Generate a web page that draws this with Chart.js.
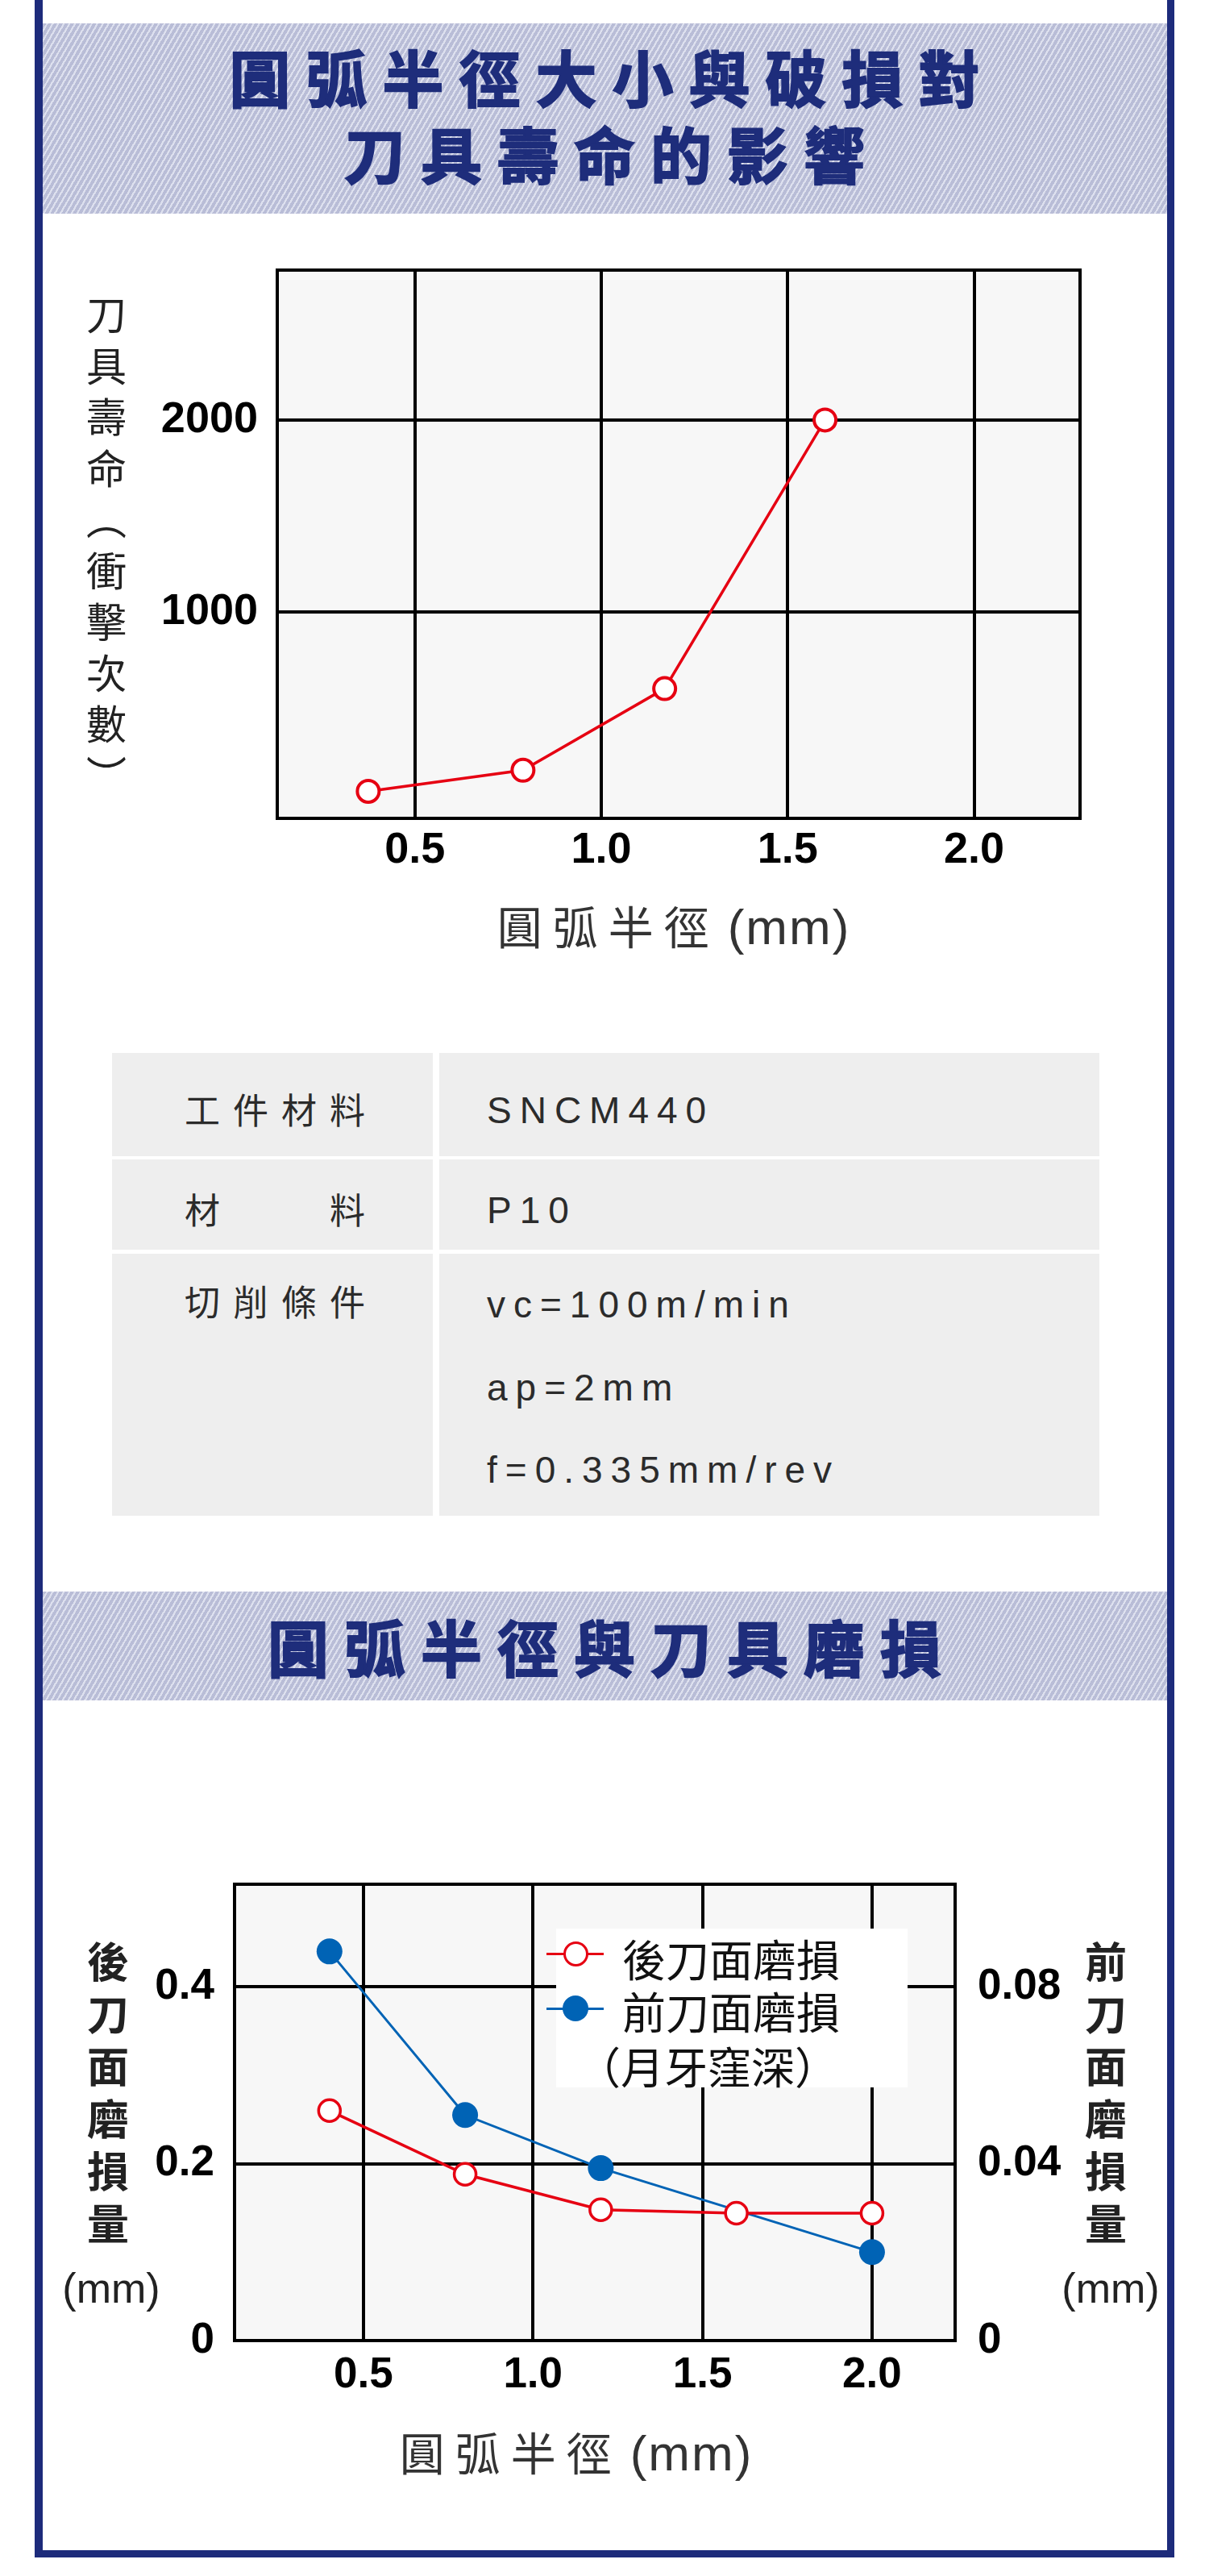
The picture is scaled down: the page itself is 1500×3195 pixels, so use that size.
<!DOCTYPE html>
<html lang="zh-Hant">
<head>
<meta charset="utf-8">
<title>圓弧半徑大小與破損對刀具壽命的影響</title>
<script src="https://cdn.jsdelivr.net/npm/chart.js@4.4.1/dist/chart.umd.min.js"></script>
<style>
  html, body { margin: 0; padding: 0; background: #fff; }
  #page { position: relative; width: 1500px; height: 3195px; overflow: hidden;
          font-family: "Noto Sans CJK TC", "Noto Sans", sans-serif; color: #222; }
  .abs { position: absolute; }
  .frame { background: #1d2b7b; }
  .band { background: repeating-linear-gradient(120deg, #b9bdd7 0px, #b9bdd7 3.8px, #dde0ee 3.8px, #dde0ee 6px); }
  .title { left: 0; width: 1500px; box-sizing: border-box; text-align: center; color: #1e2d7b;
           font-weight: 700; font-size: 76px; line-height: 95px; letter-spacing: 19px; padding-left: 19px;
           -webkit-text-stroke: 2px #1e2d7b; white-space: nowrap; }
  .cell { background: #eeeeee; }
  .lbl { font-size: 44px; line-height: 60px; letter-spacing: 16px; color: #2b2b2b; white-space: nowrap; }
  .val { font-family: "Liberation Sans", Arial, sans-serif; font-size: 46px; line-height: 103px;
         letter-spacing: 10px; color: #2b2b2b; white-space: nowrap; }
  .vcol { text-align: center; white-space: pre; }
  .xtitle { text-align: center; color: #333; white-space: nowrap; line-height: 80px; }
  .xtitle .cj { font-size: 56px; letter-spacing: 13px; }
  .xtitle .mm { font-family: "Liberation Sans", Arial, sans-serif; font-size: 62px; letter-spacing: 2px; margin-left: 10px; }
  .mmlab { font-family: "Liberation Sans", Arial, sans-serif; font-size: 52px; line-height: 60px; color: #222; text-align: center; }
  .leg { font-size: 54px; line-height: 70px; color: #111; white-space: nowrap; }
  canvas { position: absolute; }
</style>
</head>
<body>
<div id="page">
  <!-- outer frame -->
  <div class="abs frame" style="left:43px;top:0;width:10px;height:3172px"></div>
  <div class="abs frame" style="left:1448px;top:0;width:9px;height:3172px"></div>
  <div class="abs frame" style="left:43px;top:3163px;width:1414px;height:9px"></div>

  <!-- heading 1 -->
  <div class="abs band" style="left:53px;top:29px;width:1395px;height:236px"></div>
  <div class="abs title" style="top:47px">圓弧半徑大小與破損對</div>
  <div class="abs title" style="top:142px">刀具壽命的影響</div>

  <!-- chart 1 -->
  <canvas id="lifeChart" width="1200" height="800" style="left:180px;top:300px;width:1200px;height:800px"></canvas>
  <div class="abs vcol" style="left:92px;top:356px;width:80px;font-size:50px;line-height:63.5px;color:#222">刀
具
壽
命
︵
衝
擊
次
數
︶</div>
  <div class="abs xtitle" style="left:336px;top:1107px;width:1000px"><span class="cj">圓弧半徑</span><span class="mm">(mm)</span></div>

  <!-- spec table -->
  <div class="abs cell" style="left:139px;top:1306px;width:398px;height:128px"></div>
  <div class="abs cell" style="left:545px;top:1306px;width:819px;height:128px"></div>
  <div class="abs cell" style="left:139px;top:1438px;width:398px;height:112px"></div>
  <div class="abs cell" style="left:545px;top:1438px;width:819px;height:112px"></div>
  <div class="abs cell" style="left:139px;top:1555px;width:398px;height:325px"></div>
  <div class="abs cell" style="left:545px;top:1555px;width:819px;height:325px"></div>

  <div class="abs lbl" style="left:229px;top:1345px">工件材料</div>
  <div class="abs lbl" style="left:229px;top:1469px">材　　料</div>
  <div class="abs lbl" style="left:229px;top:1583px">切削條件</div>

  <div class="abs val" style="left:604px;top:1326px">SNCM440</div>
  <div class="abs val" style="left:604px;top:1450px">P10</div>
  <div class="abs val" style="left:604px;top:1567px">vc=100m/min</div>
  <div class="abs val" style="left:604px;top:1670px">ap=2mm</div>
  <div class="abs val" style="left:604px;top:1772px">f=0.335mm/rev</div>

  <!-- heading 2 -->
  <div class="abs band" style="left:53px;top:1974px;width:1395px;height:135px"></div>
  <div class="abs title" style="top:1994px">圓弧半徑與刀具磨損</div>

  <!-- chart 2 -->
  <canvas id="wearChart" width="1240" height="720" style="left:160px;top:2290px;width:1240px;height:720px"></canvas>
  <div class="abs vcol" style="left:94px;top:2398px;width:80px;font-size:52px;line-height:65px;font-weight:700;color:#222">後
刀
面
磨
損
量</div>
  <div class="abs mmlab" style="left:63px;top:2808px;width:150px">(mm)</div>
  <div class="abs vcol" style="left:1332px;top:2398px;width:80px;font-size:52px;line-height:65px;font-weight:700;color:#222">前
刀
面
磨
損
量</div>
  <div class="abs mmlab" style="left:1303px;top:2808px;width:150px">(mm)</div>
  <div class="abs xtitle" style="left:215px;top:3000px;width:1000px"><span class="cj">圓弧半徑</span><span class="mm">(mm)</span></div>

  <!-- legend of chart 2 -->
  <div class="abs" style="left:690px;top:2392px;width:436px;height:197px;background:#fff"></div>
  <div class="abs" style="left:678px;top:2421.5px;width:71px;height:3px;background:#e60012"></div>
  <div class="abs" style="left:698.5px;top:2407.5px;width:31px;height:31px;box-sizing:border-box;border:3.5px solid #e60012;border-radius:50%;background:#fff"></div>
  <div class="abs leg" style="left:772px;top:2394px">後刀面磨損</div>
  <div class="abs" style="left:678px;top:2489.5px;width:71px;height:3px;background:#0063b5"></div>
  <div class="abs" style="left:698px;top:2475px;width:32px;height:32px;border-radius:50%;background:#0063b5"></div>
  <div class="abs leg" style="left:772px;top:2459px">前刀面磨損</div>
  <div class="abs leg" style="left:716px;top:2527px">（月牙窪深）</div>
</div>

<script>
// 圖1: 圓弧半徑 (mm) 與刀具壽命 (衝擊次數)
const lifeRadius = [0.375, 0.79, 1.17, 1.6];
const lifeImpacts = [65, 175, 600, 2000];
const lifeXTicks = [0.5, 1.0, 1.5, 2.0];
const lifeYTicks = [1000, 2000];

// 圖2: 圓弧半徑 (mm) 與刀具磨損 (mm)
const flankRadius = [0.4, 0.8, 1.2, 1.6, 2.0];
const flankWear = [0.26, 0.188, 0.148, 0.144, 0.144];
const craterRadius = [0.4, 0.8, 1.2, 2.0];
const craterWear = [0.088, 0.051, 0.039, 0.020];
const wearXTicks = [0.5, 1.0, 1.5, 2.0];
const flankTicks = [0, 0.2, 0.4];
const craterTicks = [0, 0.04, 0.08];

const RED = '#e60012';
const BLUE = '#0063b5';
const tickFont = { family: '"Liberation Sans", Arial, sans-serif', size: 54, weight: 'bold' };

// plot background + black frame round the chart area
const framePlugin = {
    id: 'frame',
    beforeDraw(chart, args, opts) {
        const { ctx, chartArea: a } = chart;
        ctx.save();
        ctx.fillStyle = opts.fill;
        ctx.fillRect(a.left, a.top, a.width, a.height);
        ctx.restore();
    },
    beforeDatasetsDraw(chart, args, opts) {
        const { ctx, chartArea: a } = chart;
        ctx.save();
        ctx.strokeStyle = opts.color;
        ctx.lineWidth = opts.width;
        ctx.strokeRect(a.left, a.top, a.width, a.height);
        ctx.restore();
    }
};

function points(xs, ys) {
    return xs.map(function (x, i) { return { x: x, y: ys[i] }; });
}

function fixedTicks(list) {
    return function (scale) {
        scale.ticks = list.map(function (v) { return { value: v }; });
    };
}

// fix the axis box size and drop the label overhang padding
function fitBox(size) {
    return function (s) {
        if (s.isHorizontal()) s.height = size; else s.width = size;
        s.paddingTop = 0; s.paddingBottom = 0; s.paddingLeft = 0; s.paddingRight = 0;
    };
}

// chart 1
new Chart(document.getElementById('lifeChart').getContext('2d'), {
    type: 'line',
    data: {
        datasets: [{
            label: '刀具壽命',
            data: points(lifeRadius, lifeImpacts),
            borderColor: RED,
            borderWidth: 3.5,
            pointRadius: 13.5,
            pointBorderWidth: 4,
            pointBackgroundColor: '#fff',
            pointBorderColor: RED,
            tension: 0
        }]
    },
    options: {
        responsive: false,
        animation: false,
        layout: { padding: { top: 35, right: 40, left: 0, bottom: 0 } },
        plugins: {
            legend: { display: false },
            tooltip: { enabled: false },
            frame: { fill: '#f7f7f7', color: '#000', width: 4 }
        },
        scales: {
            x: {
                type: 'linear',
                min: 0.131,
                max: 2.284,
                afterBuildTicks: fixedTicks(lifeXTicks),
                afterFit: fitBox(85),
                ticks: { callback: function (v) { return v.toFixed(1); }, font: tickFont, color: '#000', padding: 8, maxRotation: 0 },
                grid: { color: '#000', lineWidth: 4, drawTicks: false },
                border: { display: false }
            },
            y: {
                min: -76,
                max: 2781,
                afterBuildTicks: fixedTicks(lifeYTicks),
                afterFit: fitBox(164),
                ticks: { callback: function (v) { return String(v); }, font: tickFont, color: '#000', padding: 24 },
                grid: { color: '#000', lineWidth: 4, drawTicks: false },
                border: { display: false }
            }
        }
    },
    plugins: [framePlugin]
});

// chart 2
const wearFont = { family: '"Liberation Sans", Arial, sans-serif', size: 53, weight: 'bold' };
new Chart(document.getElementById('wearChart').getContext('2d'), {
    type: 'line',
    data: {
        datasets: [{
            label: '後刀面磨損',
            data: points(flankRadius, flankWear),
            yAxisID: 'y',
            borderColor: RED,
            borderWidth: 3.5,
            pointRadius: 13.5,
            pointBorderWidth: 3.5,
            pointBackgroundColor: '#fff',
            pointBorderColor: RED,
            tension: 0
        }, {
            label: '前刀面磨損（月牙窪深）',
            data: points(craterRadius, craterWear),
            yAxisID: 'y2',
            borderColor: BLUE,
            borderWidth: 3,
            pointRadius: 16,
            pointBorderWidth: 0,
            pointBackgroundColor: BLUE,
            pointBorderColor: BLUE,
            tension: 0
        }]
    },
    options: {
        responsive: false,
        animation: false,
        layout: { padding: { top: 47, right: 0, left: 0, bottom: 0 } },
        plugins: {
            legend: { display: false },
            tooltip: { enabled: false },
            frame: { fill: '#f7f7f7', color: '#000', width: 4 }
        },
        scales: {
            x: {
                type: 'linear',
                min: 0.12,
                max: 2.245,
                afterBuildTicks: fixedTicks(wearXTicks),
                afterFit: fitBox(107),
                ticks: { callback: function (v) { return v.toFixed(1); }, font: wearFont, color: '#000', padding: 12, maxRotation: 0 },
                grid: { color: '#000', lineWidth: 4, drawTicks: false },
                border: { display: false }
            },
            y: {
                position: 'left',
                min: 0,
                max: 0.516,
                afterBuildTicks: fixedTicks(flankTicks),
                afterFit: fitBox(131),
                ticks: { callback: function (v) { return String(v); }, font: wearFont, color: '#000', padding: 25 },
                grid: { color: '#000', lineWidth: 4, drawTicks: false },
                border: { display: false }
            },
            y2: {
                position: 'right',
                min: 0,
                max: 0.1032,
                afterBuildTicks: fixedTicks(craterTicks),
                afterFit: fitBox(215),
                ticks: { callback: function (v) { return String(v); }, font: wearFont, color: '#000', padding: 28 },
                grid: { display: false, drawTicks: false },
                border: { display: false }
            }
        }
    },
    plugins: [framePlugin]
});
</script>
</body>
</html>
